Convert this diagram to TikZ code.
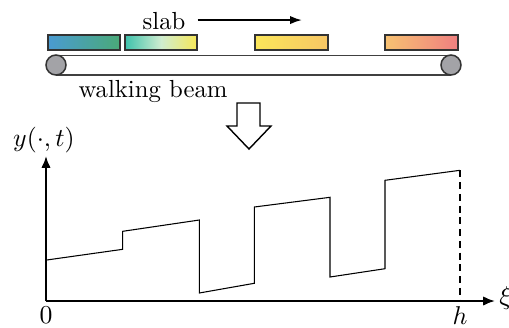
\documentclass[tikz,border=0pt]{standalone}
\usetikzlibrary{arrows.meta}
\definecolor{sA}{HTML}{4A9BD2}
\definecolor{sB}{HTML}{4AAA78}
\definecolor{sC}{HTML}{3EC2AC}
\definecolor{sD}{HTML}{F6E858}
\definecolor{sE}{HTML}{FBE65A}
\definecolor{sF}{HTML}{F7C665}
\definecolor{sG}{HTML}{F7C272}
\definecolor{sH}{HTML}{EF7F80}
\definecolor{rollgray}{HTML}{A3A3A7}
\tikzset{
  slabbox/.style={draw=black!80, line width=0.65pt},
  beamline/.style={draw=black!75, line width=0.6pt},
  roll/.style={draw=black!80, fill=rollgray, line width=0.65pt},
  axisline/.style={line width=0.9pt, -{Latex[length=5pt,width=4pt]}},
  curve/.style={line width=0.45pt},
  lbl/.style={inner sep=0pt, font=\fontsize{10.5}{12}\selectfont}
}
\begin{document}
\begin{tikzpicture}[x=0.425pt,y=-0.425pt]
\useasboundingbox (0,0) rectangle (509,327);
% slabs
\path[slabbox, left color=sA, right color=sB] (48,35) rectangle (120,50);
\path[slabbox, left color=sC, right color=sD, middle color=sD!40!sC!40!white] (125,35) rectangle (197,50);
\path[slabbox, left color=sE, right color=sF] (255,35) rectangle (328,50);
\path[slabbox, left color=sG, right color=sH] (385,35) rectangle (458,50);
% slab label and arrow
\node[lbl] (slab) at (164,21) {slab};
\coordinate (slabtip) at (302,22);
\draw[line width=0.8pt, -{Latex[length=5pt,width=3.5pt]}] (slab.east) ++(5pt,0.4pt) coordinate (slabstart) -- (slabtip |- slabstart);
% beam
\coordinate (rl) at (56,65);
\coordinate (rr) at (451,65);
\draw[beamline] (56,55.3) -- (451,55.3);
\draw[beamline] (56,75) -- (451,75);
\path[roll] (rl) circle[radius=4.25pt];
\path[roll] (rr) circle[radius=4.25pt];
\node[lbl] (beam) at (153,91) {walking beam};
% hollow arrow
\draw[line width=0.6pt, fill=white] (237,103) -- (260,103) -- (260,126) -- (271,126) -- (249,149) -- (227,126) -- (237,126) -- cycle;
% axes
\coordinate (O) at (46,301);
\coordinate (ytip) at (46,156);
\coordinate (xtip) at (495,301);
\draw[axisline] (O) -- (ytip);
\draw[axisline] (O) -- (xtip);
\node[lbl] (ylab) at (44,140) {$y(\cdot,t)$};
\node[lbl, anchor=west] (xilab) at (499,298) {$\xi$};
\node[lbl] (zero) at (46,315.5) {$0$};
\node[lbl] (hlab) at (460,315.5) {$h$};
% curve
\draw[curve] (46.7,260) -- (122.7,249.3) -- (122.7,231.3) -- (199.3,220) -- (199.3,293)
  -- (254.3,283.3) -- (254.3,207) -- (330,197.3) -- (330,277) -- (385,268.7)
  -- (385,180.3) -- (460,170.3) coordinate (hend);
\draw[curve, dashed, dash pattern=on 3pt off 2pt] (hend) -- (hend |- O);
\end{tikzpicture}
\end{document}
